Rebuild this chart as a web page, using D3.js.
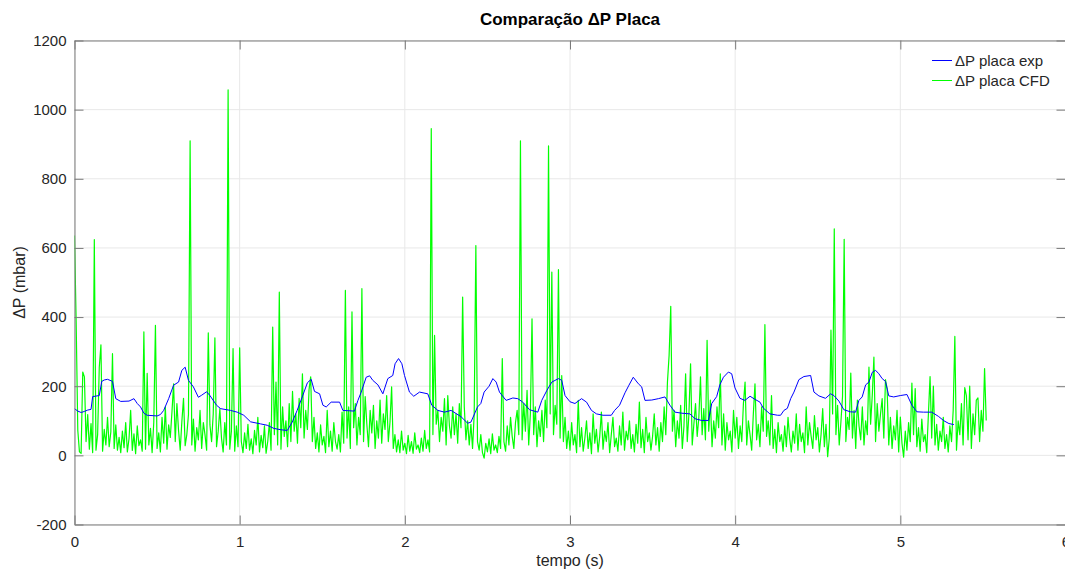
<!DOCTYPE html>
<html>
<head>
<meta charset="utf-8">
<script src="https://cdn.jsdelivr.net/npm/d3@7"></script>
<style>
  html, body { margin: 0; padding: 0; background: #ffffff; }
  svg { display: block; font-family: "Liberation Sans", Arial, Helvetica, sans-serif; }
</style>
</head>
<body>
<svg id="chart" width="1065" height="570"></svg>
<script>
// Experimental plate pressure drop: sample times (s) and values (mbar)
const expTime = [
  0.00, 0.02, 0.04, 0.06, 0.08, 0.10, 0.11, 0.15, 0.165, 0.18, 0.20, 0.23, 0.25, 0.28, 0.33, 0.36,
  0.38, 0.40, 0.42, 0.44, 0.50, 0.52, 0.54, 0.57, 0.60, 0.63, 0.65, 0.67, 0.69, 0.72, 0.75, 0.77,
  0.80, 0.82, 0.86, 0.885, 0.945, 0.985, 1.025, 1.066, 1.127, 1.167, 1.207, 1.25, 1.288, 1.318, 1.348, 1.379,
  1.41, 1.433, 1.453, 1.484, 1.504, 1.524, 1.554, 1.605, 1.625, 1.695, 1.716, 1.736, 1.766, 1.787, 1.806, 1.837,
  1.867, 1.897, 1.927, 1.941, 1.962, 1.982, 1.998, 2.028, 2.054, 2.089, 2.139, 2.163, 2.20, 2.24, 2.28, 2.34,
  2.38, 2.40, 2.44, 2.46, 2.48, 2.51, 2.533, 2.553, 2.573, 2.613, 2.654, 2.684, 2.714, 2.755, 2.805, 2.829,
  2.86, 2.89, 2.93, 2.95, 2.97, 3.00, 3.03, 3.07, 3.10, 3.13, 3.16, 3.20, 3.25, 3.27, 3.30, 3.333,
  3.357, 3.383, 3.414, 3.434, 3.454, 3.495, 3.535, 3.575, 3.605, 3.636, 3.676, 3.726, 3.757, 3.797, 3.838, 3.858,
  3.888, 3.908, 3.929, 3.959, 3.979, 3.999, 4.029, 4.059, 4.09, 4.12, 4.15, 4.17, 4.21, 4.257, 4.275, 4.295,
  4.316, 4.336, 4.356, 4.386, 4.416, 4.457, 4.477, 4.507, 4.547, 4.578, 4.598, 4.628, 4.658, 4.698, 4.729, 4.749,
  4.769, 4.79, 4.81, 4.83, 4.85, 4.87, 4.89, 4.91, 4.93, 4.96, 5.00, 5.04, 5.07, 5.10, 5.14, 5.19,
  5.23, 5.264, 5.294, 5.324
];
const expValue = [
  135, 128, 124, 127, 131, 133, 170, 173, 214, 218, 220, 214, 164, 156, 157, 164,
  150, 140, 122, 116, 114, 118, 130, 164, 203, 212, 246, 255, 217, 198, 168, 174,
  184, 173, 145, 135, 130, 125, 116, 97, 91, 87, 78, 74, 72, 96, 130, 169,
  210, 220, 185, 178, 145, 140, 154, 154, 130, 128, 159, 183, 226, 230, 217, 204,
  178, 222, 231, 265, 280, 265, 231, 183, 171, 183, 178, 145, 130, 125, 130, 112,
  93, 96, 140, 150, 183, 200, 222, 212, 183, 159, 166, 164, 154, 132, 125, 159,
  188, 212, 222, 217, 173, 155, 150, 164, 154, 130, 120, 116, 116, 130, 145, 181,
  203, 226, 207, 198, 159, 160, 164, 169, 145, 125, 122, 120, 106, 101, 101, 150,
  170, 205, 226, 241, 236, 195, 165, 159, 171, 162, 154, 137, 120, 116, 116, 130,
  136, 164, 183, 219, 228, 231, 183, 172, 165, 178, 173, 157, 132, 126, 125, 159,
  169, 204, 212, 240, 246, 236, 222, 214, 172, 169, 173, 176, 145, 126, 125, 125,
  113, 100, 92, 89
];

// CFD plate pressure drop: uniform sampling from cfdStart every cfdStep seconds (mbar)
const cfdStart = 0;
const cfdStep = 0.01;
const cfdValue = [
  636, 386, 72, 10, 6, 241, 227, 40, 118, 18,
  92, 8, 624, 15, 60, 255, 320, 12, 75, 30,
  110, 25, 68, 294, 20, 88, 15, 52, 8, 70,
  22, 95, 10, 48, 130, 14, 62, 5, 85, 28,
  45, 12, 357, 18, 237, 30, 78, 8, 96, 376,
  20, 65, 10, 110, 35, 140, 18, 88, 52, 125,
  207, 40, 150, 72, 15, 98, 165, 28, 60, 118,
  910, 30, 105, 12, 80, 45, 130, 20, 95, 60,
  15, 354, 88, 40, 120, 340, 25, 70, 135, 50,
  10, 95, 30, 1057, 18, 70, 309, 12, 85, 25,
  311, 40, 8, 65, 20, 90, 15, 48, 5, 72,
  30, 110, 10, 58, 22, 85, 6, 40, 95, 15,
  371, 60, 212, 30, 472, 18, 140, 55, 100, 25,
  150, 40, 185, 70, 120, 35, 165, 80, 236, 50,
  130, 75, 190, 227, 40, 110, 20, 65, 10, 88,
  30, 55, 8, 130, 25, 70, 12, 95, 40, 18,
  60, 10, 125, 35, 477, 50, 140, 20, 415, 80,
  150, 30, 110, 60, 482, 40, 170, 90, 25, 130,
  65, 145, 20, 100, 50, 160, 35, 120, 75, 173,
  40, 95, 198, 20, 60, 10, 45, 8, 70, 15,
  35, 5, 58, 12, 40, 6, 65, 18, 30, 8,
  50, 12, 72, 20, 45, 10, 945, 60, 347, 90,
  130, 40, 110, 70, 164, 30, 173, 85, 50, 140,
  60, 120, 35, 150, 80, 458, 140, 45, 100, 30,
  90, 20, 120, 607, 40, 15, 60, 8, -8, 35,
  10, 48, 5, 62, 15, 30, 8, 55, 20, 280,
  40, 12, 85, 30, 110, 55, 20, 95, 130, 60,
  910, 45, 150, 70, 188, 30, 120, 395, 60, 140,
  25, 100, 55, 130, 40, 160, 80, 895, 120, 530,
  60, 145, 90, 537, 50, 231, 40, 110, 20, 70,
  15, 95, 30, 60, 8, 159, 25, 80, 12, 50,
  100, 20, 65, 5, 120, 35, 75, 10, 55, 125,
  18, 70, 40, 95, 8, 60, 110, 25, 50, 12,
  85, 30, 125, 15, 70, 45, 100, 20, 60, 10,
  90, 35, 154, 22, 75, 8, 110, 40, 65, 15,
  55, 120, 30, 80, 12, 95, 40, 140, 60, 212,
  289, 431, 70, 130, 25, 100, 50, 145, 20, 85,
  236, 40, 120, 265, 30, 90, 150, 55, 110, 227,
  60, 135, 45, 333, 70, 160, 25, 100, 50, 140,
  80, 236, 30, 120, 15, 95, 45, 70, 10, 130,
  50, 110, 20, 85, 40, 150, 212, 30, 100, 60,
  15, 120, 207, 45, 90, 25, 140, 70, 378, 55,
  100, 30, 173, 20, 75, 8, 95, 40, 60, 12,
  85, 25, 110, 50, 10, 70, 35, 120, 15, 90,
  40, 65, 8, 140, 30, 95, 55, 20, 115, 45,
  80, 10, 60, 135, 25, 90, -4, 50, 362, 120,
  655, 60, 145, 30, 95, 170, 625, 40, 110, 75,
  238, 50, 130, 20, 160, 85, 45, 140, 30, 100,
  60, 255, 90, 173, 284, 40, 150, 70, 120, 164,
  50, 219, 193, 30, 110, 20, 85, 45, 130, 10,
  111, 35, -5, 70, 15, 95, 40, 209, 60, 193,
  25, 80, 12, 105, 40, 60, 8, 120, 228, 50,
  200, 30, 90, 15, 70, 40, 110, 20, 60, 10,
  85, 40, 130, 344, 15, 100, 60, 150, 30, 196,
  173, 45, 200, 20, 120, 60, 160, 166, 40, 130,
  70, 251, 101
];

const xTicks = [0, 1, 2, 3, 4, 5, 6];
const yTicks = [-200, 0, 200, 400, 600, 800, 1000, 1200];
const seriesNames = ["\u0394P placa exp", "\u0394P placa CFD"];
const seriesColors = ["#0000ff", "#00ff00"];

const svg = d3.select("#chart");
const plotLeft = 74.5, plotRight = 1065.5, plotTop = 40.5, plotBottom = 524.5;

const x = d3.scaleLinear().domain([0, 6]).range([plotLeft, plotRight]);
const y = d3.scaleLinear().domain([-200, 1200]).range([plotBottom, plotTop]);

const axisColor = "#7a7a7a";
const gridColor = "#e8e8e8";
const textColor = "#262626";
const plainNumber = d => String(d);

// grid
const grid = svg.append("g");
grid.selectAll("line.gx").data(xTicks).join("line")
  .attr("x1", d => x(d)).attr("x2", d => x(d))
  .attr("y1", plotTop).attr("y2", plotBottom)
  .attr("stroke", gridColor).attr("stroke-width", 1);
grid.selectAll("line.gy").data(yTicks).join("line")
  .attr("x1", plotLeft).attr("x2", plotRight)
  .attr("y1", d => y(d)).attr("y2", d => y(d))
  .attr("stroke", gridColor).attr("stroke-width", 1);

// data lines
svg.append("clipPath").attr("id", "plotclip")
  .append("rect").attr("x", plotLeft).attr("y", plotTop)
  .attr("width", plotRight - plotLeft).attr("height", plotBottom - plotTop);

const expData = expTime.map((t, i) => [t, expValue[i]]);
const cfdData = cfdValue.map((v, i) => [cfdStart + i * cfdStep, v]);

const line = d3.line().x(d => x(d[0])).y(d => y(d[1]));

const plot = svg.append("g").attr("clip-path", "url(#plotclip)");
plot.append("path").datum(cfdData)
  .attr("d", line).attr("fill", "none")
  .attr("stroke", seriesColors[1]).attr("stroke-width", 1.2)
  .attr("stroke-linejoin", "round");
plot.append("path").datum(expData)
  .attr("d", line).attr("fill", "none")
  .attr("stroke", seriesColors[0]).attr("stroke-width", 1)
  .attr("stroke-linejoin", "round");

// axes (ticks pointing inward, box on all sides)
function styleAxis(g) {
  g.select(".domain").attr("stroke", axisColor);
  g.selectAll(".tick line").attr("stroke", axisColor);
  g.selectAll(".tick text").attr("fill", textColor)
    .attr("font-size", "15px")
    .attr("font-family", "'Liberation Sans', Arial, Helvetica, sans-serif");
}

svg.append("g").attr("transform", `translate(0,${plotBottom})`)
  .call(d3.axisBottom(x).tickValues(xTicks).tickFormat(plainNumber)
    .tickSizeInner(-9).tickSizeOuter(0).tickPadding(12))
  .call(styleAxis);
svg.append("g").attr("transform", `translate(0,${plotTop})`)
  .call(d3.axisTop(x).tickValues(xTicks).tickFormat("")
    .tickSizeInner(-9).tickSizeOuter(0))
  .call(styleAxis);
svg.append("g").attr("transform", `translate(${plotLeft},0)`)
  .call(d3.axisLeft(y).tickValues(yTicks).tickFormat(plainNumber)
    .tickSizeInner(-9).tickSizeOuter(0).tickPadding(8))
  .call(styleAxis);
svg.append("g").attr("transform", `translate(${plotRight},0)`)
  .call(d3.axisRight(y).tickValues(yTicks).tickFormat("")
    .tickSizeInner(-9).tickSizeOuter(0))
  .call(styleAxis);

// title and axis labels
svg.append("text")
  .attr("x", (plotLeft + plotRight) / 2).attr("y", 25)
  .attr("text-anchor", "middle")
  .attr("font-size", "17px").attr("font-weight", "bold").attr("fill", "#000")
  .text("Compara\u00e7\u00e3o \u0394P Placa");

svg.append("text")
  .attr("x", (plotLeft + plotRight) / 2).attr("y", 566)
  .attr("text-anchor", "middle")
  .attr("font-size", "16px").attr("fill", textColor)
  .text("tempo (s)");

svg.append("text")
  .attr("transform", `translate(25,${(plotTop + plotBottom) / 2}) rotate(-90)`)
  .attr("text-anchor", "middle")
  .attr("font-size", "16px").attr("fill", textColor)
  .text("\u0394P (mbar)");

// legend
const legend = svg.append("g").attr("transform", "translate(932,0)");
seriesNames.forEach((name, i) => {
  const ly = 60.5 + i * 20;
  legend.append("line")
    .attr("x1", 0).attr("x2", 20).attr("y1", ly).attr("y2", ly)
    .attr("stroke", seriesColors[i]).attr("stroke-width", 1);
  legend.append("text")
    .attr("x", 23).attr("y", ly + 5)
    .attr("font-size", "15px").attr("fill", textColor)
    .text(name);
});
</script>
</body>
</html>
